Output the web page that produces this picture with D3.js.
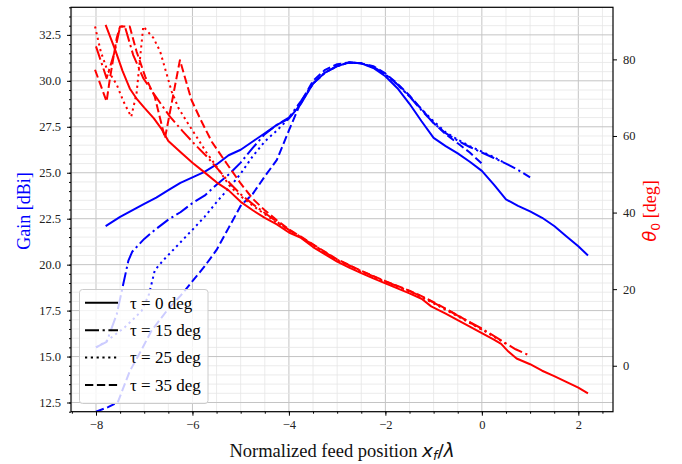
<!DOCTYPE html>
<html><head><meta charset="utf-8">
<script src="https://cdn.jsdelivr.net/npm/d3@7"></script>
<style>body{margin:0;background:#fff}svg{display:block}</style>
</head><body>
<svg id="c" width="682" height="464"></svg>
<script>
// ---- data: [x_f/lambda, value] ----
const gainTau0 = [[-7.8,22.1],[-7.5,22.6],[-7.25,22.95],[-7.0,23.3],[-6.75,23.65],[-6.5,24.05],[-6.25,24.45],[-6.0,24.75],[-5.75,25.05],[-5.5,25.45],[-5.25,25.95],[-5.0,26.25],[-4.75,26.7],[-4.5,27.15],[-4.25,27.6],[-4.0,27.95],[-3.75,28.75],[-3.5,29.85],[-3.25,30.45],[-3.0,30.8],[-2.75,31.0],[-2.5,30.95],[-2.25,30.7],[-2.0,30.25],[-1.75,29.6],[-1.5,28.75],[-1.25,27.8],[-1.0,26.9],[-0.75,26.45],[-0.5,26.05],[-0.25,25.6],[0.0,25.1],[0.25,24.35],[0.5,23.55],[0.75,23.2],[1.0,22.9],[1.25,22.55],[1.5,22.1],[1.75,21.55],[2.0,21.0],[2.2,20.5]];
const gainTau15 = [[-8.0,15.5],[-7.78,15.8],[-7.57,17.3],[-7.33,20.2],[-7.25,20.7],[-7.0,21.4],[-6.75,21.95],[-6.5,22.45],[-6.25,22.85],[-6.0,23.35],[-5.75,23.75],[-5.5,24.35],[-5.25,24.9],[-5.0,25.55],[-4.75,26.35],[-4.5,27.1],[-4.25,27.6],[-4.0,28.0],[-3.75,28.9],[-3.5,29.85],[-3.25,30.45],[-3.0,30.8],[-2.75,31.0],[-2.5,30.95],[-2.25,30.75],[-2.0,30.35],[-1.75,29.8],[-1.5,29.15],[-1.25,28.4],[-1.0,27.7],[-0.75,27.15],[-0.5,26.75],[-0.25,26.4],[0.0,26.1],[0.25,25.8],[0.5,25.5],[0.75,25.15],[1.0,24.75]];
const gainTau25 = [[-8.0,15.5],[-7.8,15.8],[-7.6,16.2],[-7.4,16.6],[-7.2,17.1],[-7.05,17.5],[-6.9,18.4],[-6.78,19.7],[-6.6,20.25],[-6.4,20.8],[-6.2,21.35],[-6.0,21.9],[-5.75,22.6],[-5.5,23.4],[-5.25,24.15],[-5.0,24.95],[-4.75,25.9],[-4.5,26.7],[-4.25,27.3],[-4.0,27.95],[-3.75,28.8],[-3.5,29.85],[-3.25,30.45],[-3.0,30.8],[-2.75,31.0],[-2.5,30.95],[-2.25,30.75],[-2.0,30.35],[-1.75,29.8],[-1.5,29.15],[-1.25,28.45],[-1.0,27.8],[-0.75,27.2],[-0.5,26.8],[-0.25,26.45],[0.0,26.15],[0.25,25.85],[0.5,25.5]];
const gainTau35 = [[-8.0,12.0],[-7.75,12.25],[-7.55,12.5],[-7.3,14.2],[-7.05,15.4],[-6.85,16.4],[-6.5,17.6],[-6.25,18.3],[-6.0,19.1],[-5.75,19.9],[-5.5,20.8],[-5.25,22.0],[-5.0,23.2],[-4.75,23.85],[-4.5,24.8],[-4.25,25.7],[-4.0,27.3],[-3.75,28.85],[-3.5,30.0],[-3.25,30.6],[-3.0,30.9],[-2.75,31.0],[-2.5,30.95],[-2.25,30.8],[-2.0,30.4],[-1.75,29.85],[-1.5,29.2],[-1.25,28.45],[-1.0,27.7],[-0.75,27.1],[-0.5,26.6],[-0.25,26.1],[0.0,25.5]];

const thetaTau0 = [[-7.8,89.0],[-7.6,82.4],[-7.45,77.0],[-7.3,72.4],[-7.15,69.6],[-7.0,67.4],[-6.8,64.6],[-6.65,62.0],[-6.5,58.7],[-6.25,55.8],[-6.0,53.0],[-5.75,50.5],[-5.5,47.9],[-5.25,45.8],[-5.0,42.8],[-4.75,40.6],[-4.5,38.6],[-4.25,36.9],[-4.0,34.8],[-3.75,33.4],[-3.5,31.0],[-3.25,29.1],[-3.0,27.2],[-2.75,25.6],[-2.5,24.2],[-2.25,22.8],[-2.0,21.5],[-1.75,20.2],[-1.5,18.9],[-1.25,17.5],[-1.05,15.5],[-0.75,13.6],[-0.5,11.9],[-0.25,10.2],[0.0,8.5],[0.25,6.8],[0.4,5.7],[0.55,3.7],[0.72,1.9],[1.0,0.4],[1.25,-1.3],[1.5,-2.7],[1.75,-4.2],[2.0,-5.7],[2.2,-7.2]];
const thetaTau15 = [[-8.0,83.4],[-7.78,75.1],[-7.61,82.1],[-7.5,88.6],[-7.4,88.6],[-7.23,81.2],[-7.02,75.1],[-6.74,69.9],[-6.47,65.1],[-6.2,61.2],[-5.95,57.8],[-5.7,54.6],[-5.45,51.0],[-5.22,47.6],[-5.0,44.8],[-4.75,42.2],[-4.5,39.9],[-4.25,37.6],[-4.0,35.5],[-3.75,33.6],[-3.5,31.6],[-3.25,29.6],[-3.0,27.7],[-2.5,24.7],[-2.0,22.0],[-1.5,19.5],[-1.25,18.1],[-1.0,16.5],[-0.75,14.8],[-0.5,13.1],[0.0,9.7],[0.4,6.6],[0.7,4.3],[1.0,2.6]];
const thetaTau25 = [[-8.02,88.6],[-7.9,82.0],[-7.78,77.7],[-7.57,73.4],[-7.43,69.0],[-7.27,65.0],[-7.16,71.0],[-7.02,88.6],[-6.81,85.6],[-6.67,82.1],[-6.57,77.7],[-6.43,71.6],[-6.29,67.3],[-6.12,63.8],[-5.9,59.5],[-5.7,55.5],[-5.5,52.0],[-5.22,46.8],[-5.0,44.3],[-4.75,41.8],[-4.5,39.6],[-4.25,37.4],[-4.0,35.3],[-3.75,33.5],[-3.5,31.5],[-3.0,27.6],[-2.5,24.5],[-2.0,21.9],[-1.5,19.4],[-1.0,16.3],[-0.5,12.9],[0.0,9.5],[0.25,7.6],[0.5,5.7]];
const thetaTau35 = [[-8.02,77.3],[-7.78,69.0],[-7.71,75.1],[-7.57,85.6],[-7.5,88.6],[-7.3,88.6],[-7.16,82.1],[-6.98,75.5],[-6.78,70.2],[-6.57,59.4],[-6.26,79.8],[-6.02,69.4],[-5.84,64.5],[-5.6,58.5],[-5.29,52.8],[-5.0,47.6],[-4.75,43.6],[-4.5,40.6],[-4.25,38.0],[-4.0,35.6],[-3.75,33.7],[-3.5,31.7],[-3.0,27.8],[-2.5,24.8],[-2.0,22.1],[-1.5,19.6],[-1.25,18.2],[-1.0,16.6],[-0.5,13.2],[0.0,9.4]];

const legendLabels = ["τ = 0 deg", "τ = 15 deg", "τ = 25 deg", "τ = 35 deg"];
const xTicks = [-8, -6, -4, -2, 0, 2];
const leftTicks = [12.5, 15.0, 17.5, 20.0, 22.5, 25.0, 27.5, 30.0, 32.5];
const rightTicks = [0, 20, 40, 60, 80];

// ---- layout ----
const L = 71, R = 613, T = 7.3, B = 411.7;
const serif = "'Liberation Serif','Times New Roman',serif";
const svg = d3.select("#c");
const x = d3.scaleLinear().domain([-8.518, 2.719]).range([L, R]);
const yL = d3.scaleLinear().domain([12, 34]).range([B, T]);
const yR = d3.scaleLinear().domain([-12.0, 93.6]).range([B, T]);

// grid
const grid = svg.append("g");
d3.range(-8.5, 2.75, 0.5).forEach(v => {
  const major = Math.abs(v % 2) < 1e-9;
  grid.append("line").attr("x1", x(v)).attr("x2", x(v)).attr("y1", T).attr("y2", B)
    .attr("stroke", major ? "#c4c4c4" : "#e6e6e6").attr("stroke-width", major ? 1 : 0.8);
});
d3.range(12, 34.01, 0.5).forEach(v => {
  const major = Math.abs(((v - 12.5) % 2.5 + 2.5) % 2.5) < 1e-9;
  grid.append("line").attr("x1", L).attr("x2", R).attr("y1", yL(v)).attr("y2", yL(v))
    .attr("stroke", major ? "#c4c4c4" : "#e6e6e6").attr("stroke-width", major ? 1 : 0.8);
});

svg.append("clipPath").attr("id", "clip").append("rect")
  .attr("x", L).attr("y", T).attr("width", R - L).attr("height", B - T);

const dashes = ["none", "14,3.6,2.2,3.6", "2.2,3.6", "8.3,3.6"];
const lw = 2;

const blueLine = d3.line().x(d => x(d[0])).y(d => yL(d[1]));
const redLine = d3.line().x(d => x(d[0])).y(d => yR(d[1]));

const gBlue = svg.append("g").attr("clip-path", "url(#clip)");
[gainTau0, gainTau15, gainTau25, gainTau35].forEach((s, i) => {
  gBlue.append("path").attr("d", blueLine(s)).attr("fill", "none").attr("stroke", "#0000ff")
    .attr("stroke-width", lw).attr("stroke-dasharray", dashes[i]).attr("stroke-linejoin", "round");
});

// legend (belongs to left axes; drawn over blue lines)
const leg = svg.append("g");
leg.append("rect").attr("x", 79.5).attr("y", 289.5).attr("width", 128.5).attr("height", 114)
  .attr("rx", 3).attr("fill", "#fff").attr("fill-opacity", 0.8).attr("stroke", "#cccccc").attr("stroke-width", 1);
legendLabels.forEach((t, i) => {
  const yy = 302.7 + i * 27.45;
  leg.append("line").attr("x1", 85).attr("x2", 118).attr("y1", yy).attr("y2", yy)
    .attr("stroke", "#000").attr("stroke-width", lw).attr("stroke-dasharray", dashes[i]);
  leg.append("text").attr("x", 130).attr("y", yy + 5.8).style("font-family", serif)
    .style("font-size", "17px").attr("fill", "#000").text(t);
});

const gRed = svg.append("g").attr("clip-path", "url(#clip)");
[thetaTau0, thetaTau15, thetaTau25, thetaTau35].forEach((s, i) => {
  gRed.append("path").attr("d", redLine(s)).attr("fill", "none").attr("stroke", "#ff0000")
    .attr("stroke-width", lw).attr("stroke-dasharray", dashes[i]).attr("stroke-linejoin", "round");
});

// spines
svg.append("rect").attr("x", L).attr("y", T).attr("width", R - L).attr("height", B - T)
  .attr("fill", "none").attr("stroke", "#000").attr("stroke-width", 1.2);

function style(g) {
  g.select(".domain").remove();
  g.attr("font-family", null).attr("font-size", null);
  g.selectAll(".tick line").attr("stroke", "#000").attr("stroke-width", 1);
  g.selectAll(".tick text").style("font-family", serif).style("font-size", "12.5px").attr("fill", "#222");
}
// x axis
svg.append("g").attr("transform", `translate(0,${B})`)
  .call(d3.axisBottom(x).tickValues(d3.range(-8.5, 2.75, 0.5)).tickSize(2).tickFormat(""))
  .call(style);
svg.append("g").attr("transform", `translate(0,${B})`)
  .call(d3.axisBottom(x).tickValues(xTicks).tickSize(4).tickPadding(4).tickFormat(d3.format("d")))
  .call(style);
// left axis
svg.append("g").attr("transform", `translate(${L},0)`)
  .call(d3.axisLeft(yL).tickValues(d3.range(12, 34.01, 0.5)).tickSize(2).tickFormat(""))
  .call(style);
svg.append("g").attr("transform", `translate(${L},0)`)
  .call(d3.axisLeft(yL).tickValues(leftTicks).tickSize(4).tickPadding(6).tickFormat(d3.format(".1f")))
  .call(style);
// right axis
svg.append("g").attr("transform", `translate(${R},0)`)
  .call(d3.axisRight(yR).tickValues(rightTicks).tickSize(4).tickPadding(6).tickFormat(d3.format("d")))
  .call(style);

// axis labels
const xl = svg.append("text").attr("x", 342).attr("y", 456.5).attr("text-anchor", "middle")
  .style("font-family", serif).style("font-size", "18.5px").attr("fill", "#111");
xl.append("tspan").text("Normalized feed position ");
xl.append("tspan").style("font-family", "'DejaVu Sans',sans-serif").style("font-style", "italic").text("x");
xl.append("tspan").style("font-family", "'DejaVu Sans',sans-serif").style("font-style", "italic")
  .style("font-size", "12.5px").attr("dy", 3.5).text("f");
xl.append("tspan").style("font-family", "'DejaVu Sans',sans-serif").attr("dy", -3.5).text("/");
xl.append("tspan").style("font-family", "'DejaVu Sans',sans-serif").style("font-style", "italic").text("λ");

svg.append("text").attr("transform", "translate(29.5,211) rotate(-90)").attr("text-anchor", "middle")
  .style("font-family", serif).style("font-size", "18px").attr("fill", "#0000ff").text("Gain [dBi]");

const yr = svg.append("text").attr("transform", "translate(656,211) rotate(-90)").attr("text-anchor", "middle")
  .style("font-family", serif).style("font-size", "18px").attr("fill", "#ff0000");
yr.append("tspan").style("font-family", "'DejaVu Sans',sans-serif").style("font-style", "italic").text("θ");
yr.append("tspan").style("font-family", "'DejaVu Sans',sans-serif").style("font-size", "12.5px").attr("dy", 3.5).text("0");
yr.append("tspan").attr("dy", -3.5).text(" [deg]");
</script>
</body></html>
